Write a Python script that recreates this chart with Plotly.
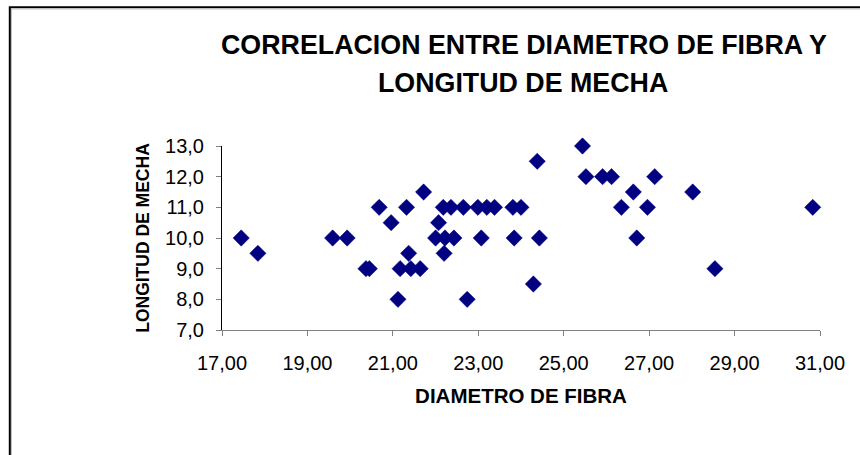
import plotly.graph_objects as go

# Fibre diameter (x) and staple length (y) for each sample
diametro = [17.45, 17.84, 19.59, 19.93, 20.37, 20.45, 20.68, 20.96, 21.12, 21.17,
            21.32, 21.37, 21.42, 21.64, 21.72, 22.00, 22.07, 22.18, 22.20, 22.22,
            22.36, 22.43, 22.65, 22.74, 22.99, 23.07, 23.20, 23.38, 23.81, 23.84,
            24.00, 24.29, 24.38, 24.43, 25.44, 25.52, 25.91, 26.12, 26.35, 26.63,
            26.71, 26.96, 27.13, 28.02, 28.54, 30.83]
longitud = [10.0, 9.5, 10.0, 10.0, 9.0, 9.0, 11.0, 10.5, 8.0, 9.0,
            11.0, 9.5, 9.0, 9.0, 11.5, 10.0, 10.5, 11.0, 9.5, 10.0,
            11.0, 10.0, 11.0, 8.0, 11.0, 10.0, 11.0, 11.0, 11.0, 10.0,
            11.0, 8.5, 12.5, 10.0, 13.0, 12.0, 12.0, 12.0, 11.0, 11.5,
            10.0, 11.0, 12.0, 11.5, 9.0, 11.0]

titulo = ["CORRELACION ENTRE DIAMETRO DE FIBRA Y", "LONGITUD DE MECHA"]
titulo_x = "DIAMETRO DE FIBRA"
titulo_y = "LONGITUD DE MECHA"

FONT = "Liberation Sans, Arial, sans-serif"
W, H = 860, 455
L, R, T, B = 222, 40, 146, 125
pw, ph = W - L - R, H - T - B


def px_x(p):
    return (p - L) / pw


def px_y(p):
    return (H - B - p) / ph


fig = go.Figure(go.Scatter(
    x=diametro, y=longitud, mode="markers", cliponaxis=False,
    marker=dict(symbol="diamond", size=12.5, color="#000080",
                line=dict(color="#000080", width=0.5)),
    hoverinfo="x+y",
))

axis_common = dict(showgrid=False, zeroline=False, showline=True,
                   ticks="outside", ticklen=5, tickwidth=1,
                   tickfont=dict(family=FONT, size=20, color="#000000"))

fig.update_xaxes(range=[17, 31], dtick=2, tick0=17, tickformat=".2f",
                 linecolor="#808080", tickcolor="#808080", linewidth=1,
                 ticklabelstandoff=10,
                 title=dict(text=f"<b>{titulo_x}</b>", standoff=15,
                            font=dict(family=FONT, size=20.5, color="#000000")),
                 **axis_common)
fig.update_yaxes(range=[7, 13], dtick=1, tickformat=".1f",
                 linecolor="#000000", tickcolor="#808080", linewidth=1,
                 ticklabelstandoff=8,
                 title=dict(text=f"<b>{titulo_y}</b>", standoff=10,
                            font=dict(family=FONT, size=17.5, color="#000000")),
                 **axis_common)

annotations = [
    dict(text=f"<b>{titulo[0]}</b>", x=px_x(524), y=px_y(45), xref="paper", yref="paper",
         xanchor="center", yanchor="middle", showarrow=False,
         font=dict(family=FONT, size=26.8, color="#000000")),
    dict(text=f"<b>{titulo[1]}</b>", x=px_x(523), y=px_y(82.5), xref="paper", yref="paper",
         xanchor="center", yanchor="middle", showarrow=False,
         font=dict(family=FONT, size=26.8, color="#000000")),
]

shapes = [
    dict(type="rect", xref="paper", yref="paper",
         x0=px_x(9.8), y0=px_y(7.3), x1=px_x(880), y1=px_y(480),
         line=dict(color="#000000", width=2), fillcolor="rgba(0,0,0,0)", layer="below"),
    dict(type="rect", xref="paper", yref="paper",
         x0=px_x(11.5), y0=px_y(9), x1=px_x(880), y1=px_y(480),
         line=dict(color="#c0c0c0", width=1), fillcolor="rgba(0,0,0,0)", layer="below"),
]

fig.update_layout(
    width=W, height=H, autosize=False,
    margin=dict(l=L, r=R, t=T, b=B, autoexpand=False),
    paper_bgcolor="#ffffff", plot_bgcolor="#ffffff",
    separators=",.",
    showlegend=False,
    annotations=annotations,
    shapes=shapes,
    font=dict(family=FONT, color="#000000"),
)

fig.write_html("out.html")
